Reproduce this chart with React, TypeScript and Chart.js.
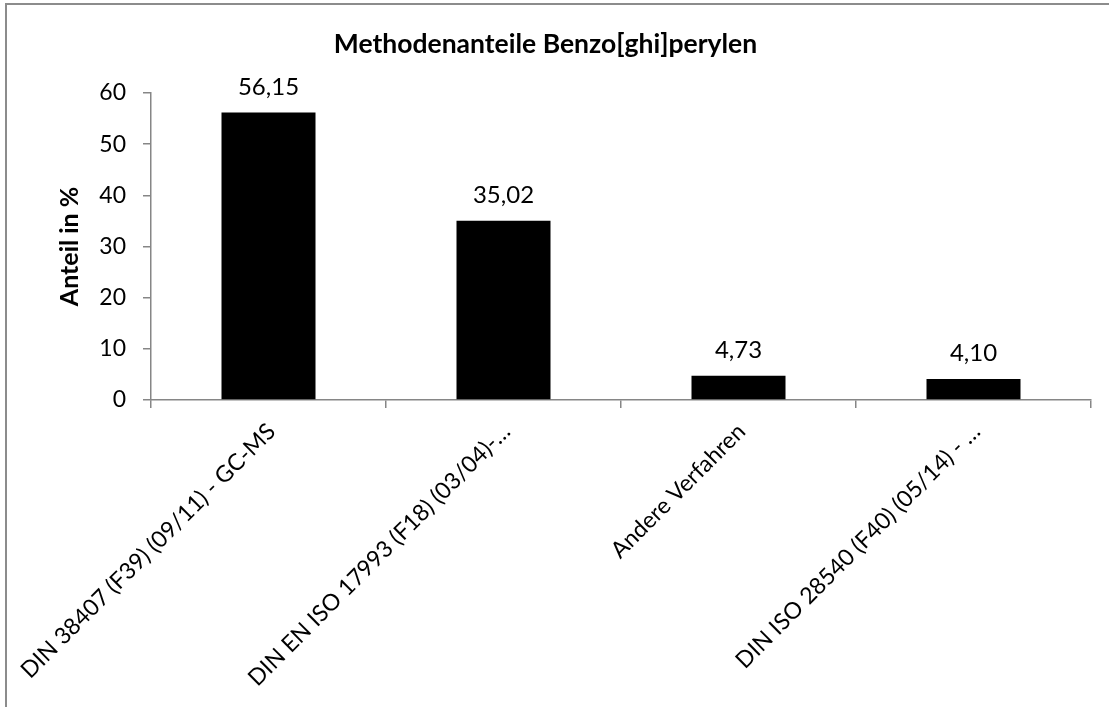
import React, { useEffect, useRef } from "react";
import { Chart, registerables } from "chart.js";

Chart.register(...registerables);

const categories = [
  "DIN 38407 (F39) (09/11) - GC-MS",
  "DIN EN ISO 17993 (F18) (03/04)-…",
  "Andere Verfahren",
  "DIN ISO 28540 (F40) (05/14) - …",
];
const shares = [56.15, 35.02, 4.73, 4.1];
const chartTitle = "Methodenanteile Benzo[ghi]perylen";
const yAxisTitle = "Anteil in %";

const FONT = "Lato, 'Open Sans', sans-serif";
const AXIS_GREY = "#868686";

const frame = {
  id: "frame",
  beforeDraw(chart: any) {
    const { ctx } = chart;
    ctx.save();
    ctx.strokeStyle = "#8c8c8c";
    ctx.lineWidth = 2;
    ctx.beginPath();
    ctx.moveTo(6, 707);
    ctx.lineTo(6, 4);
    ctx.lineTo(1109, 4);
    ctx.stroke();
    ctx.restore();
  },
};

const valueLabels = {
  id: "valueLabels",
  afterDatasetsDraw(chart: any) {
    const { ctx } = chart;
    const meta = chart.getDatasetMeta(0);
    ctx.save();
    ctx.fillStyle = "#000";
    ctx.font = `24px ${FONT}`;
    ctx.textAlign = "center";
    ctx.textBaseline = "alphabetic";
    meta.data.forEach((bar: any, i: number) => {
      const txt = shares[i].toFixed(2).replace(".", ",");
      ctx.fillText(txt, bar.x, bar.y - 18);
    });
    ctx.restore();
  },
};

export default function App() {
  const ref = useRef<HTMLCanvasElement>(null);
  useEffect(() => {
    document.body.style.margin = "0";
    const chart = new Chart(ref.current!, {
      type: "bar",
      data: {
        labels: categories,
        datasets: [
          {
            data: shares,
            backgroundColor: "#000",
            borderWidth: 0,
            categoryPercentage: 1,
            barPercentage: 0.4,
          },
        ],
      },
      options: {
        responsive: false,
        animation: false,
        layout: { padding: { top: 0, right: 18, bottom: 0, left: 0 } },
        plugins: {
          legend: { display: false },
          tooltip: { enabled: false },
          title: {
            display: true,
            text: chartTitle,
            color: "#000",
            font: { family: FONT, size: 26.5, weight: "bold", lineHeight: 1.2 },
            padding: { top: 28.5, bottom: 32.6 },
          },
        },
        scales: {
          x: {
            grid: {
              offset: true,
              drawOnChartArea: false,
              drawTicks: true,
              tickLength: 8,
              color: AXIS_GREY,
              lineWidth: 1.5,
            },
            border: { color: AXIS_GREY, width: 1.5 },
            ticks: {
              autoSkip: false,
              minRotation: 45,
              maxRotation: 45,
              color: "#000",
              padding: 10,
              labelOffset: 3,
              font: { family: FONT, size: 23 },
            },
            afterFit(scale: any) {
              scale.height = 307;
              scale.paddingLeft = 0;
              scale.paddingRight = 0;
            },
          },
          y: {
            min: 0,
            max: 60,
            ticks: {
              stepSize: 10,
              color: "#000",
              padding: 17,
              font: { family: FONT, size: 23 },
            },
            grid: {
              drawOnChartArea: false,
              drawTicks: true,
              tickLength: 8,
              color: AXIS_GREY,
              lineWidth: 1.5,
            },
            border: { color: AXIS_GREY, width: 1.5 },
            title: {
              display: true,
              text: yAxisTitle,
              color: "#000",
              font: { family: FONT, size: 25, weight: "bold", lineHeight: 1.2 },
              padding: { top: 55, bottom: 0 },
            },
            afterFit(scale: any) {
              scale.width = 151;
            },
          },
        },
      },
      plugins: [frame, valueLabels],
    });
    return () => chart.destroy();
  }, []);
  return (
    <div style={{ position: "fixed", left: 0, top: 0, width: 1109, height: 707, background: "#fff" }}>
      <canvas ref={ref} width={1109} height={707} style={{ width: 1109, height: 707, display: "block" }} />
    </div>
  );
}
